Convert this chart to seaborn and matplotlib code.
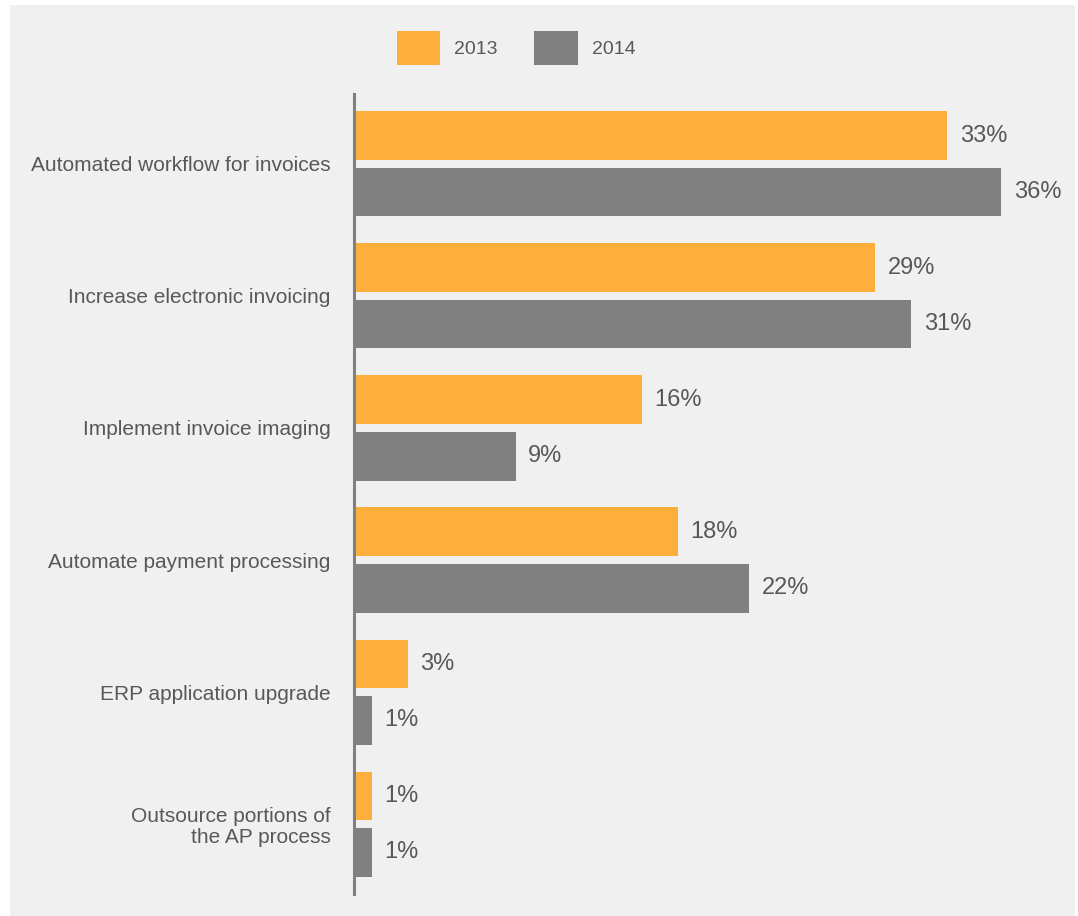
import matplotlib
matplotlib.use("Agg")
import matplotlib.pyplot as plt
from matplotlib.patches import Rectangle
import pandas as pd
import seaborn as sns

# Survey data: share of respondents citing each AP initiative
categories = [
    "Automated workflow for invoices",
    "Increase electronic invoicing",
    "Implement invoice imaging",
    "Automate payment processing",
    "ERP application upgrade",
    "Outsource portions of\nthe AP process",
]
values_2013 = [33, 29, 16, 18, 3, 1]
values_2014 = [36, 31, 9, 22, 1, 1]
years = ["2013", "2014"]

ORANGE = "#fcb03b"
GRAY = "#808080"
TEXT = "#585858"
PANEL = "#eff0ef"

df = pd.DataFrame({
    "category": categories * 2,
    "value": values_2013 + values_2014,
    "year": [years[0]] * len(categories) + [years[1]] * len(categories),
})

sns.set_theme(style="white")
plt.rcParams["font.family"] = ["Liberation Sans", "DejaVu Sans"]

W, H = 1078, 916
fig = plt.figure(figsize=(W / 100, H / 100), dpi=100, facecolor="white")

# light panel behind the chart
fig.patches.append(Rectangle((10 / W, 0), (1075 - 10) / W, (H - 5) / H,
                             transform=fig.transFigure, facecolor=PANEL,
                             edgecolor="none", zorder=-10))

ax = fig.add_axes([354 / W, (H - 894) / H, 719 / W, 800 / H])
ax.set_facecolor("none")

sns.barplot(data=df, y="category", x="value", hue="year", orient="h",
            palette=[ORANGE, GRAY], saturation=1, errorbar=None,
            width=0.86, gap=0.15, linewidth=0, edgecolor="none", ax=ax)

ax.set_xlim(0, 40)
ax.set_ylim(5.53, -0.53)
ax.set_xlabel("")
ax.set_ylabel("")
ax.set_xticks([])

for side in ["top", "right", "bottom"]:
    ax.spines[side].set_visible(False)
ax.spines["left"].set_color(GRAY)
ax.spines["left"].set_linewidth(2.2)
ax.spines["left"].set_zorder(5)

ax.tick_params(axis="y", length=0, pad=17, labelsize=15, labelcolor=TEXT)
for lab in ax.get_yticklabels():
    lab.set_linespacing(1.15)

for container in ax.containers:
    ax.bar_label(container, labels=[f"{v:.0f}%" for v in container.datavalues],
                 padding=9, fontsize=17, color=TEXT)

handles, labels = ax.get_legend_handles_labels()
if ax.get_legend() is not None:
    ax.get_legend().remove()
fig.legend(handles, labels, loc="center", bbox_to_anchor=(516 / W, 1 - 48 / H),
           ncol=2, frameon=False, fontsize=14, labelcolor=TEXT,
           handlelength=2.26, handleheight=2.26, handletextpad=0.72,
           columnspacing=1.85, borderpad=0)

fig.savefig("out.png", dpi=100, facecolor="white")
